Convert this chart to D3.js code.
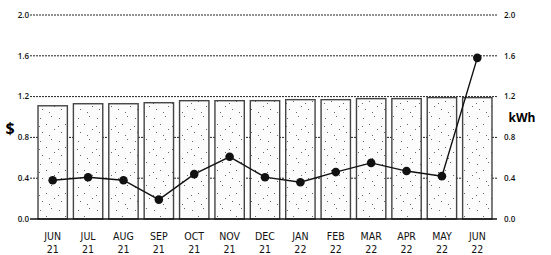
<!DOCTYPE html>
<html>
<head>
<meta charset="utf-8">
<script src="https://cdn.jsdelivr.net/npm/d3@7"></script>
<style>
  body { margin: 0; background: #fff; }
  svg { font-family: "Open Sans", "DejaVu Sans", sans-serif; }
  .grid line { stroke: #222; stroke-width: 1; stroke-dasharray: 2,1; }
  .tick-lbl { font-size: 8px; font-weight: 600; fill: #111; }
  .month { font-family: "Liberation Sans Narrow", "DejaVu Sans Condensed", sans-serif; font-size: 10.5px; fill: #111; }
</style>
</head>
<body>
<svg id="chart"></svg>
<script>
const months = ["JUN", "JUL", "AUG", "SEP", "OCT", "NOV", "DEC", "JAN", "FEB", "MAR", "APR", "MAY", "JUN"];
const years = ["21", "21", "21", "21", "21", "21", "21", "22", "22", "22", "22", "22", "22"];
const costs = [1.11, 1.13, 1.13, 1.14, 1.16, 1.16, 1.16, 1.17, 1.17, 1.18, 1.18, 1.19, 1.19];
const usage = [0.38, 0.41, 0.38, 0.19, 0.44, 0.61, 0.41, 0.36, 0.46, 0.55, 0.47, 0.42, 1.58];
const ticks = [0, 0.4, 0.8, 1.2, 1.6, 2.0];

const W = 551, H = 255;
const plotL = 35, plotR = 495, plotT = 15, plotB = 219;

const svg = d3.select("#chart").attr("width", W).attr("height", H);

// stipple pattern for bars
const defs = svg.append("defs");
const pat = defs.append("pattern")
    .attr("id", "stip")
    .attr("patternUnits", "userSpaceOnUse")
    .attr("width", 19).attr("height", 23);
pat.append("rect").attr("width", 19).attr("height", 23).attr("fill", "#fcfcfc");
[[2, 3], [13, 1], [8, 9], [16, 14], [4, 17], [11, 20], [1, 11]].forEach(p => {
    pat.append("rect").attr("x", p[0]).attr("y", p[1]).attr("width", 1).attr("height", 1).attr("fill", "#666");
});

const keys = months.map((m, i) => i);
const x = d3.scaleBand().domain(keys).range([plotL, plotR]).paddingInner(0.17).paddingOuter(0.085);
const y = d3.scaleLinear().domain([0, 2]).range([plotB, plotT]);
const y2 = d3.scaleLinear().domain([0, 2]).range([plotB, plotT]);

// gridlines
svg.append("g")
    .attr("class", "grid")
    .selectAll("line")
    .data(ticks.slice(1))
    .join("line")
    .attr("x1", plotL - 5).attr("x2", plotR + 3)
    .attr("y1", d => y(d)).attr("y2", d => y(d));

// bars
svg.append("g")
    .selectAll("rect")
    .data(costs)
    .join("rect")
    .attr("x", (d, i) => x(i))
    .attr("y", d => y(d))
    .attr("width", x.bandwidth())
    .attr("height", d => plotB - y(d))
    .attr("fill", "url(#stip)")
    .attr("stroke", "#444")
    .attr("stroke-width", 1.4);

// baseline
svg.append("line")
    .attr("x1", plotL - 5).attr("x2", plotR + 2)
    .attr("y1", plotB).attr("y2", plotB)
    .attr("stroke", "#111").attr("stroke-width", 1.3);

// left tick labels
svg.append("g").selectAll("text")
    .data(ticks)
    .join("text")
    .attr("class", "tick-lbl")
    .attr("x", plotL - 6)
    .attr("y", d => y(d))
    .attr("dy", "0.35em")
    .attr("text-anchor", "end")
    .text(d3.format(".1f"));

// right tick labels
svg.append("g").selectAll("text")
    .data(ticks)
    .join("text")
    .attr("class", "tick-lbl")
    .attr("x", plotR + 9)
    .attr("y", d => y2(d))
    .attr("dy", "0.35em")
    .text(d3.format(".1f"));

// axis titles
svg.append("text")
    .attr("x", 10).attr("y", 128)
    .attr("dy", "0.35em")
    .attr("text-anchor", "middle")
    .attr("font-size", 16).attr("font-weight", 700)
    .text("$");

svg.append("text")
    .attr("x", 522).attr("y", 118)
    .attr("dy", "0.35em")
    .attr("text-anchor", "middle")
    .attr("font-size", 12).attr("font-weight", 700)
    .text("kWh");

// month labels
const lbl = svg.append("g").selectAll("g")
    .data(keys)
    .join("g")
    .attr("transform", i => `translate(${x(i) + x.bandwidth() / 2},0)`);
lbl.append("text").attr("class", "month").attr("y", 240).attr("text-anchor", "middle").text(i => months[i]);
lbl.append("text").attr("class", "month").attr("y", 252.5).attr("text-anchor", "middle").text(i => years[i]);

// usage line
const line = d3.line()
    .x((d, i) => x(i) + x.bandwidth() / 2)
    .y(d => y2(d));

svg.append("path")
    .datum(usage)
    .attr("d", line)
    .attr("fill", "none")
    .attr("stroke", "#111")
    .attr("stroke-width", 1.4);

svg.append("g").selectAll("circle")
    .data(usage)
    .join("circle")
    .attr("cx", (d, i) => x(i) + x.bandwidth() / 2)
    .attr("cy", d => y2(d))
    .attr("r", 4.3)
    .attr("fill", "#111");
</script>
</body>
</html>
